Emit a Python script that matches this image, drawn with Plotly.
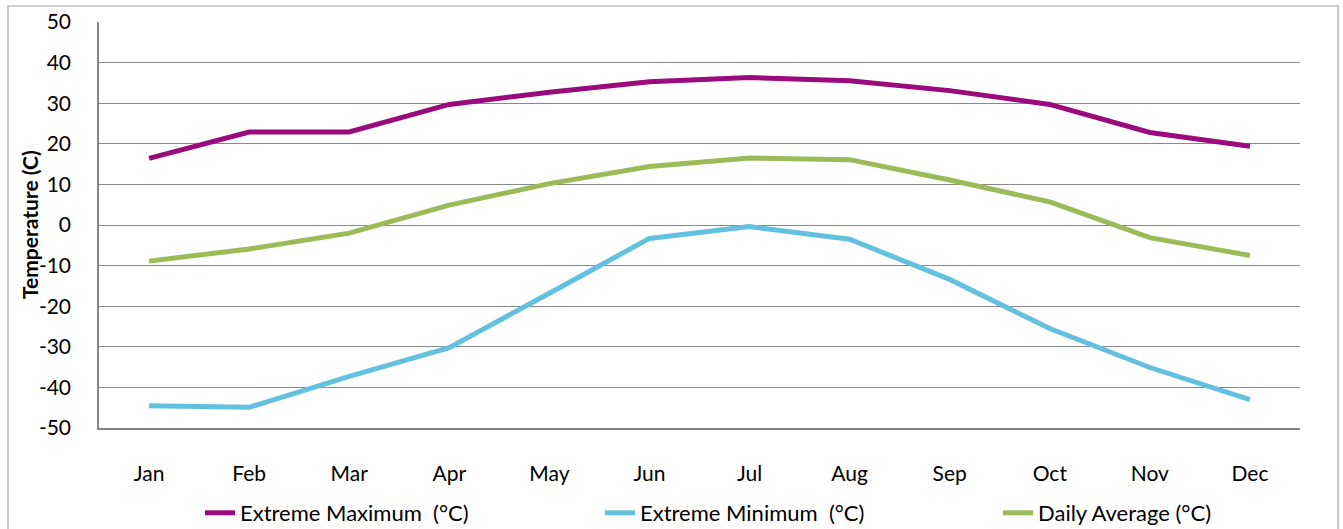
import plotly.graph_objects as go

months = ["Jan", "Feb", "Mar", "Apr", "May", "Jun", "Jul", "Aug", "Sep", "Oct", "Nov", "Dec"]
extreme_max = [16.4, 22.9, 22.9, 29.7, 32.7, 35.3, 36.3, 35.5, 33.1, 29.7, 22.8, 19.4]
extreme_min = [-44.5, -44.9, -37.3, -30.2, -16.8, -3.3, -0.4, -3.5, -13.4, -25.5, -35.1, -43.0]
daily_avg = [-8.9, -5.9, -2.0, 4.9, 10.2, 14.4, 16.5, 16.1, 11.1, 5.7, -3.1, -7.5]

series_names = ["Extreme Maximum\u00a0 (°C)", "Extreme Minimum\u00a0 (°C)", "Daily Average (°C)"]
series_colors = ["#9A0A7D", "#63C0E0", "#9BBB59"]
y_ticks = list(range(-50, 51, 10))
y_title = "Temperature (C)"

W, H = 1343, 529
L, R, T, B = 99, 43, 22, 101
pw, ph = W - L - R, H - T - B

font_family = "Lato, 'Open Sans', sans-serif"

# one legend box per series, spaced evenly along the bottom
legend_ids = ["legend", "legend2", "legend3"]
legend_left_px = [200, 600, 998]

fig = go.Figure()
for name, vals, col, lid in zip(series_names, [extreme_max, extreme_min, daily_avg],
                                series_colors, legend_ids):
    fig.add_trace(go.Scatter(
        x=months, y=vals, name=name, mode="lines",
        line=dict(color=col, width=5), legend=lid,
    ))

legend_layout = {}
for lid, px in zip(legend_ids, legend_left_px):
    legend_layout[lid] = dict(
        orientation="h", x=(px - L) / pw, xanchor="left",
        y=-(513 - 428) / ph, yanchor="middle",
        font=dict(size=22, family=font_family),
        itemwidth=30, bgcolor="rgba(0,0,0,0)",
    )

fig.update_layout(
    width=W, height=H,
    margin=dict(l=L, r=R, t=T, b=B, autoexpand=False),
    paper_bgcolor="white", plot_bgcolor="white",
    font=dict(family=font_family, size=21, color="#000000"),
    showlegend=True,
    **legend_layout,
    xaxis=dict(
        type="category", range=[-0.5, 11.5], showgrid=False, zeroline=False,
        showline=True, linecolor="#868686", linewidth=2,
        ticks="", ticklabelstandoff=26,
        tickfont=dict(size=21, family=font_family),
    ),
    yaxis=dict(
        range=[-50, 50], tickvals=y_ticks, ticktext=[str(v) for v in y_ticks],
        showgrid=True, gridcolor="#898989", gridwidth=1.2,
        zeroline=False, showline=True, linecolor="#868686", linewidth=1.5,
        ticks="", ticklabelstandoff=22,
        tickfont=dict(size=21, family=font_family),
    ),
)

# Vertical axis title, placed just left of the tick labels
fig.add_annotation(
    text=f"<b>{y_title}</b>", textangle=-90, showarrow=False,
    xref="paper", yref="paper", x=(29 - L) / pw, y=0.5,
    xanchor="center", yanchor="middle",
    font=dict(size=21, family=font_family, color="#000000"),
)

# Outer chart border
fig.add_shape(
    type="rect", xref="paper", yref="paper",
    x0=(8 - L) / pw, x1=(1338 - L) / pw,
    y0=(428 - 540) / ph, y1=(428 - 6) / ph,
    line=dict(color="#A6A6A6", width=1.2), fillcolor="rgba(0,0,0,0)", layer="below",
)

fig.write_html("out.html")
